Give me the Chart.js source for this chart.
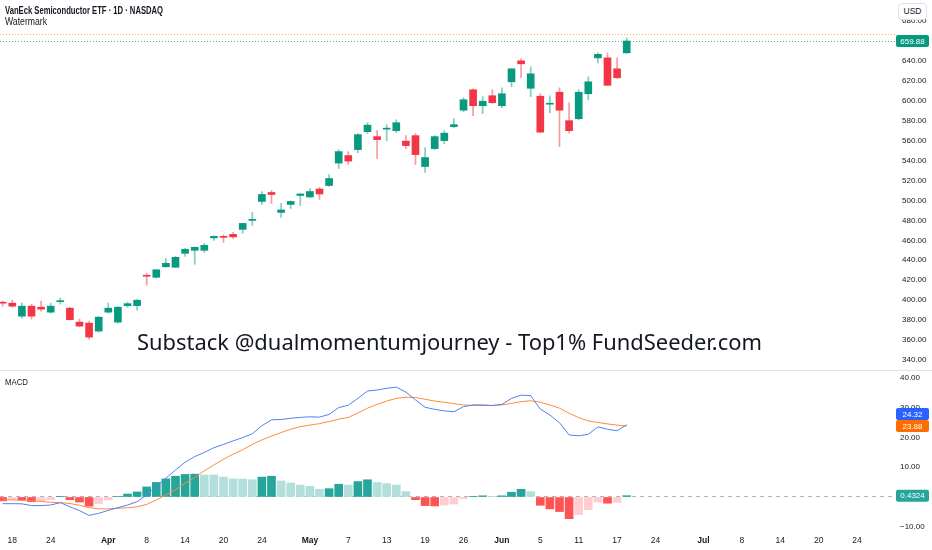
<!DOCTYPE html>
<html>
<head>
<meta charset="utf-8">
<script src="https://cdn.jsdelivr.net/npm/chart.js@4.4.1/dist/chart.umd.min.js"></script>
<style>
  html, body { margin: 0; padding: 0; background: #fff; }
  #wrap { position: relative; width: 932px; height: 550px; overflow: hidden; color: #131722;
          font-family: 'Liberation Sans', sans-serif; }
  #price { position: absolute; left: 0; top: 0; }
  #macd { position: absolute; left: 0; top: 371px; }
  #sep { position: absolute; left: 0; top: 370px; width: 932px; height: 1px; background: #e0e3eb; }
  .txt { position: absolute; white-space: nowrap; transform-origin: 0 0; line-height: 1; }
  #title { left: 5px; top: 5.5px; font-size: 10px; font-weight: bold; }
  #sub { left: 5px; top: 17px; font-size: 10px; }
  #macdlbl { left: 5px; top: 378px; font-size: 8.5px; }
  #wm { left: 137px; top: 330.5px; font-size: 21.5px; font-family: 'Noto Sans', sans-serif; color: #131722; }
  #usd { position: absolute; left: 898px; top: 3px; width: 29px; height: 17px; box-sizing: border-box;
         border: 1px solid #e0e3eb; border-radius: 4px; background: #fff; font-size: 8.5px;
         line-height: 15px; text-align: center; }
</style>
</head>
<body>
<div id="wrap">
  <canvas id="price" width="932" height="370"></canvas>
  <div id="sep"></div>
  <canvas id="macd" width="932" height="179"></canvas>
  <div class="txt" id="title">VanEck Semiconductor ETF · 1D · NASDAQ</div>
  <div class="txt" id="sub">Watermark</div>
  <div class="txt" id="macdlbl">MACD</div>
  <div class="txt" id="wm">Substack @dualmomentumjourney - Top1% FundSeeder.com</div>
  <div id="usd">USD</div>
</div>
<script>
// -- THE DATA --

const opens  = [397.5,397,384,394,393,388,398.5,392,378,377,369,388,378,394.5,394.5,424.5,423,433.5,433,447,
                450,450,462.5,464,466,471,480,499,508,488,496,505,503.5,511.5,515,537.5,545,551,569,564,
                571.5,570,559.5,565,534,552,560,574,590.5,611,595,605,595,619,640,612.5,604.5,596.5,608.5,580,
                582,607,643,643,632,648];
const highs  = [399,400,397,396,399,397,402,393,381,379,383.5,397,393.5,398,400.5,427,431,442,444,452,
                453.5,457,464.5,465.5,468,477,488,509,510,497,499.5,507,512,513,526,551,549,567,578,570,
                576,581,565,567,553,565,570,582,603,612,604,611,613,632,642,634,607,605,613,598,
                611,624,648,648,643,663];
const lows   = [394,393,382,381,389,387,396,380,373.5,361,368,387,377,393,390,415,422,433,433,444,
                436,448,460,458,462,467,475,496,497,483,492,495,503,501,514,532,536,548,567,542,
                560,568,552,536,528,551,557,573,589,585,587,597.5,593,614,623,604,568,588,554,567.5,
                581,601,638,615,622.5,647.5];
const closes = [397,394,394,384,391,394,399,380.5,374,363,383,392,393,396.5,400,424,430.5,437,443,451,
                453,455,464,463,463.5,477,481,506,506,490.5,499,506.5,509,506.5,522,549,539.5,566,575.5,561,
                572,578,555,546,543,564,567.5,576,601,595,599.5,598,607,632,637,627,568.5,597.5,590.5,570,
                608.5,619,646.5,615.5,623,659.88];
const extPrice = 666.8;

const macdLine   = [-2.25,-2.25,-2.3,-2.9,-2.9,-2.7,-1.9,-3.3,-4.6,-6.2,-5.5,-4.5,-3.6,-2.7,-1.6,0.7,3.5,6.3,9.1,11.7,
                    13.6,15.0,16.6,17.7,18.9,20.0,21.3,24.0,26.0,26.1,26.5,26.8,27.0,26.9,27.8,30.1,30.9,33.2,35.7,36.0,
                    36.6,37.0,35.3,32.7,30.2,29.5,29.0,28.7,30.4,31.0,31.0,30.8,31.2,33.2,34.3,34.1,29.6,27.6,25.0,20.9,
                    20.6,21.1,23.6,22.8,22.3,24.32];
const signalLine = [-0.9,-1.0,-1.2,-1.3,-1.5,-1.8,-1.9,-2.2,-2.8,-3.6,-4.0,-4.0,-3.8,-3.6,-3.3,-2.5,-1.0,0.7,2.4,4.6,
                    6.6,8.8,10.8,12.7,14.4,15.9,17.7,19.2,20.5,21.7,22.8,23.7,24.2,24.7,25.4,26.2,26.8,28.3,29.9,31.2,
                    32.3,33.2,33.6,33.5,32.9,32.3,31.9,31.4,31.0,30.8,30.8,30.8,31.0,31.5,32.1,32.4,31.9,31.0,29.9,28.2,
                    26.7,25.6,25.1,24.6,24.2,23.88];
const histo      = [-1.3,-0.9,-0.9,-1.6,-1.3,-0.9,0.1,-0.9,-1.7,-3.1,-2.2,-1.0,0.1,1.0,1.7,3.4,4.9,6.1,7.0,7.6,
                    7.7,7.4,7.4,6.7,6.1,6.0,5.8,6.7,7.0,5.4,4.7,4.0,3.6,2.6,2.8,4.3,4.0,5.2,5.8,4.9,
                    4.5,4.0,1.8,-0.9,-2.9,-3.0,-2.7,-2.4,-0.6,0.1,0.4,0.1,0.4,1.6,2.6,1.8,-2.8,-4.0,-4.9,-7.3,
                    -5.9,-4.3,-1.7,-2.1,-1.8,0.4324];

const dateTickIdx  = [1,5,11,15,19,23,27,32,36,40,44,48,52,56,60,64,68,73,77,81,85,89];
const dateTickText = ['18','24','Apr','8','14','20','24','May','7','13','19','26','Jun','5','11','17','24','Jul','8','14','20','24'];
const monthTicks = ['Apr','May','Jun','Jul'];

// -- STYLE --

const UP = '#089981', DOWN = '#f23645';
const UP_WICK = 'rgba(8,153,129,0.5)', DOWN_WICK = 'rgba(242,54,69,0.5)';
const SLOT = 9.6;                        // px per bar
const X_MIN = -2.7 / SLOT;
const X_MAX = X_MIN + 893 / SLOT;

function hasFont(name) {
  const c = document.createElement('canvas').getContext('2d');
  const s = 'mmmmmlli0123456789.';
  c.font = '20px monospace';
  const a = c.measureText(s).width;
  c.font = '20px "' + name + '", monospace';
  return c.measureText(s).width !== a;
}
const NARROW = hasFont('Liberation Sans Narrow');
Chart.defaults.font.family = NARROW ? "'Liberation Sans Narrow'" : "'Liberation Sans'";
const AXIS_SIZE = NARROW ? 9 : 8;
Chart.defaults.color = '#131722';

const idx = closes.map((_, i) => i);
const isUp = i => closes[i] >= opens[i];

function noPad(s) { s.paddingTop = 0; s.paddingBottom = 0; s.paddingLeft = 0; s.paddingRight = 0; }

function badge(chart, y, text, color) {
  const ctx = chart.ctx, x0 = chart.chartArea.right + 3, w = 33, h = 12;
  ctx.save();
  ctx.fillStyle = color;
  ctx.beginPath();
  ctx.roundRect(x0, y - h / 2, w, h, 2);
  ctx.fill();
  ctx.fillStyle = '#fff';
  ctx.font = AXIS_SIZE + 'px ' + Chart.defaults.font.family;
  ctx.textAlign = 'center';
  ctx.textBaseline = 'middle';
  ctx.fillText(text, x0 + w / 2, y + 0.5);
  ctx.restore();
}

// -- PRICE PANE --

const priceLines = {
  id: 'priceLines',
  beforeDatasetsDraw(chart) {
    const ctx = chart.ctx, a = chart.chartArea, y = chart.scales.y;
    const lines = [[extPrice, 'rgba(255,152,0,0.75)'], [closes[closes.length - 1], 'rgba(8,153,129,0.75)']];
    ctx.save();
    ctx.lineWidth = 1;
    ctx.setLineDash([1, 2]);
    lines.forEach(([v, c]) => {
      const py = Math.round(y.getPixelForValue(v)) + 0.5;
      ctx.strokeStyle = c;
      ctx.beginPath();
      ctx.moveTo(a.left, py);
      ctx.lineTo(a.right + 3, py);
      ctx.stroke();
    });
    ctx.restore();
  },
  afterDraw(chart) {
    const last = closes[closes.length - 1];
    badge(chart, chart.scales.y.getPixelForValue(last), last.toFixed(2), isUp(closes.length - 1) ? UP : DOWN);
  }
};

new Chart(document.getElementById('price'), {
  type: 'bar',
  data: {
    datasets: [
      {
        label: 'wick',
        data: idx.map(i => ({ x: i, y: [lows[i], highs[i]] })),
        backgroundColor: c => isUp(c.dataIndex) ? UP_WICK : DOWN_WICK,
        barThickness: 1,
        grouped: false,
        order: 2
      },
      {
        label: 'body',
        data: idx.map(i => ({ x: i, y: [opens[i], closes[i]] })),
        backgroundColor: c => isUp(c.dataIndex) ? UP : DOWN,
        barThickness: 7,
        minBarLength: 1,
        grouped: false,
        order: 1
      }
    ]
  },
  options: {
    responsive: false,
    animation: false,
    events: [],
    layout: { padding: 0 },
    plugins: { legend: { display: false }, tooltip: { enabled: false } },
    scales: {
      x: { type: 'linear', min: X_MIN, max: X_MAX, offset: false, display: false },
      y: {
        position: 'right', min: 330, max: 701, beginAtZero: false,
        afterFit: s => { s.width = 39; noPad(s); },
        grid: { display: false, drawTicks: false },
        border: { display: false },
        ticks: {
          stepSize: 20, includeBounds: false, padding: 9,
          font: { size: AXIS_SIZE },
          callback: v => v > 690 ? '' : v.toFixed(2)
        }
      }
    }
  },
  plugins: [priceLines]
});

// -- MACD PANE --

function histColor(i) {
  const h = histo[i], p = i > 0 ? histo[i - 1] : h;
  if (h >= 0) return p < h ? '#26a69a' : '#b2dfdb';
  return p < h ? '#ffcdd2' : '#ff5252';
}

const macdBadges = {
  id: 'macdBadges',
  afterDraw(chart) {
    const y = chart.scales.y, n = histo.length - 1;
    const yo = y.getPixelForValue(signalLine[n]);
    let yb = y.getPixelForValue(macdLine[n]);
    if (Math.abs(yb - yo) < 12) yb = macdLine[n] >= signalLine[n] ? yo - 12 : yo + 12;
    badge(chart, yb, macdLine[n].toFixed(2), '#2962ff');
    badge(chart, yo, signalLine[n].toFixed(2), '#ff6d00');
    badge(chart, y.getPixelForValue(histo[n]), histo[n].toFixed(4), histColor(n));
  }
};

new Chart(document.getElementById('macd'), {
  type: 'bar',
  data: {
    datasets: [
      {
        type: 'line', label: 'MACD',
        data: idx.map(i => ({ x: i, y: macdLine[i] })),
        borderColor: '#4f7ff7', borderWidth: 1, pointRadius: 0, tension: 0, order: 0
      },
      {
        type: 'line', label: 'Signal',
        data: idx.map(i => ({ x: i, y: signalLine[i] })),
        borderColor: '#ff8a3d', borderWidth: 1, pointRadius: 0, tension: 0, order: 0
      },
      {
        label: 'Histogram',
        data: idx.map(i => ({ x: i, y: histo[i] })),
        backgroundColor: c => histColor(c.dataIndex),
        barThickness: 8,
        grouped: false,
        order: 1
      }
    ]
  },
  options: {
    responsive: false,
    animation: false,
    events: [],
    layout: { padding: 0 },
    plugins: { legend: { display: false }, tooltip: { enabled: false } },
    scales: {
      x: {
        type: 'linear', min: X_MIN, max: X_MAX, offset: false,
        afterFit: s => { s.height = 19; noPad(s); },
        afterBuildTicks: s => { s.ticks = dateTickIdx.map(v => ({ value: v })); },
        grid: { display: false, drawTicks: false },
        border: { display: false },
        ticks: {
          autoSkip: false, maxRotation: 0, padding: 5,
          font: c => ({ size: AXIS_SIZE + 0.5, weight: c.tick && monthTicks.includes(dateTickText[dateTickIdx.indexOf(c.tick.value)]) ? 'bold' : 'normal' }),
          callback: v => dateTickText[dateTickIdx.indexOf(v)]
        }
      },
      y: {
        position: 'right', min: -11.45, max: 42.42, beginAtZero: false,
        afterFit: s => { s.width = 39; noPad(s); },
        grid: {
          drawTicks: false,
          color: c => c.tick && c.tick.value === 0 ? '#b2b5be' : 'rgba(0,0,0,0)'
        },
        border: { display: false, dash: [4, 4] },
        ticks: {
          stepSize: 10, includeBounds: false, padding: 7,
          font: { size: AXIS_SIZE },
          callback: v => (v < 0 ? '\u2212' : '') + Math.abs(v).toFixed(2)
        }
      }
    }
  },
  plugins: [macdBadges]
});

// -- TEXT FITTING --

function fitWidth(id, w) {
  const el = document.getElementById(id);
  const cur = el.getBoundingClientRect().width;
  if (cur > 0) el.style.transform = 'scaleX(' + (w / cur) + ')';
}
fitWidth('title', 158);
fitWidth('sub', 42);
fitWidth('macdlbl', 23);
fitWidth('wm', 625);
</script>
</body>
</html>
